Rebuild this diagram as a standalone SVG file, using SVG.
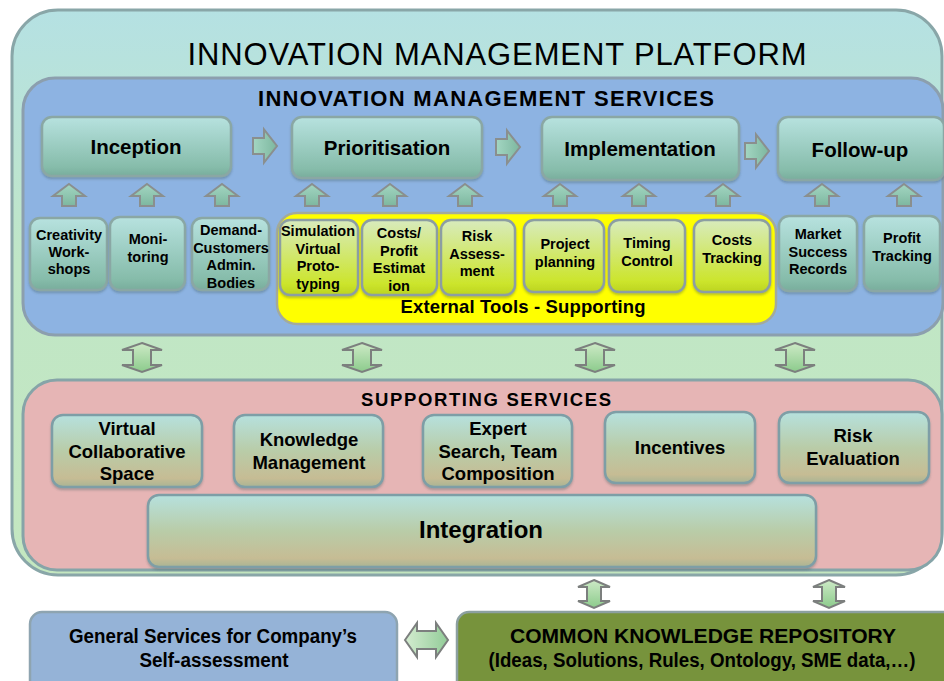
<svg xmlns="http://www.w3.org/2000/svg" width="944" height="681" viewBox="0 0 944 681">
  <defs>
    <linearGradient id="gOuter" x1="0" y1="0" x2="0" y2="1">
      <stop offset="0" stop-color="#b5e1e3"/>
      <stop offset="0.45" stop-color="#c0e6c6"/>
      <stop offset="1" stop-color="#c4e7c0"/>
    </linearGradient>
    <linearGradient id="gStage" x1="0" y1="0" x2="0" y2="1">
      <stop offset="0" stop-color="#b7e2df"/>
      <stop offset="0.85" stop-color="#86bcaa"/>
      <stop offset="1" stop-color="#78ad9c"/>
    </linearGradient>
    <linearGradient id="gTool" x1="0" y1="0" x2="0" y2="1">
      <stop offset="0" stop-color="#d8ebbd"/>
      <stop offset="0.85" stop-color="#cce52c"/>
      <stop offset="1" stop-color="#bcd420"/>
    </linearGradient>
    <linearGradient id="gSupport" x1="0" y1="0" x2="0" y2="1">
      <stop offset="0" stop-color="#b6e1de"/>
      <stop offset="0.5" stop-color="#b9cca8"/>
      <stop offset="0.88" stop-color="#c6bc94"/>
      <stop offset="1" stop-color="#a9b494"/>
    </linearGradient>
    <linearGradient id="gArrow" x1="0" y1="0" x2="0" y2="1">
      <stop offset="0" stop-color="#a3d6c2"/>
      <stop offset="1" stop-color="#7db79f"/>
    </linearGradient>
    <linearGradient id="gArrowR" x1="0" y1="0" x2="1" y2="0">
      <stop offset="0" stop-color="#a3d6c2"/>
      <stop offset="1" stop-color="#7db79f"/>
    </linearGradient>
    <linearGradient id="gDouble" x1="0" y1="0" x2="0" y2="1">
      <stop offset="0" stop-color="#cdeac6"/>
      <stop offset="1" stop-color="#8ccb8c"/>
    </linearGradient>
    <linearGradient id="gDoubleH" x1="0" y1="0" x2="1" y2="0">
      <stop offset="0" stop-color="#d4ecd0"/>
      <stop offset="1" stop-color="#92cc98"/>
    </linearGradient>
    <filter id="shadow" x="-10%" y="-10%" width="120%" height="130%">
      <feDropShadow dx="0" dy="2" stdDeviation="1.2" flood-color="#3c5a5a" flood-opacity="0.35"/>
    </filter>

    <!-- connector shapes, drawn at the origin and placed with <use> -->
    <path id="upArrow" d="M0,0 L16,12 L7,12 L7,22 L-7,22 L-7,12 L-16,12 Z"/>
    <path id="rightArrow" d="M0,-8 L11,-8 L11,-16.5 L24,0 L11,16.5 L11,8 L0,8 Z"/>
    <path id="bigDouble" d="M0,0 L20,7 L9,7 L9,22 L20,22 L0,29 L-20,22 L-9,22 L-9,7 L-20,7 Z"/>
    <path id="smallDouble" d="M0,0 L16,7 L7,7 L7,21 L16,21 L0,28 L-16,21 L-7,21 L-7,7 L-16,7 Z"/>
    <path id="sideDouble" d="M0,0 L12,-17 L12,-9 L31,-9 L31,-17 L43,0 L31,17 L31,9 L12,9 L12,17 Z"/>

    <style>
      text { font-family: "Liberation Sans", Arial, sans-serif; fill: #000; text-anchor: middle; }
      .b { font-weight: bold; }
      .stage { fill: url(#gStage); stroke: #8aa7a4; stroke-width: 2.5; filter: url(#shadow); }
      .tool { fill: url(#gTool); stroke: #8c9ea2; stroke-width: 2.5; filter: url(#shadow); }
      .sup { fill: url(#gSupport); stroke: #7e9ea6; stroke-width: 2.5; filter: url(#shadow); }
      .stT { font-size: 20.5px; font-weight: bold; }
      .smT { font-size: 14.5px; font-weight: bold; }
      .spT { font-size: 18.5px; font-weight: bold; }
      .up { fill: url(#gArrow); stroke: #8a8f8e; stroke-width: 2; }
      .right { fill: url(#gArrowR); stroke: #8a8f8e; stroke-width: 2; }
      .dbl { fill: url(#gDouble); stroke: #7c7f7e; stroke-width: 2; }
      .dblH { fill: url(#gDoubleH); stroke: #7c7f7e; stroke-width: 2; }
    </style>
  </defs>

  <rect width="944" height="681" fill="#ffffff"/>

  <!-- platform frame -->
  <g id="platform">
    <rect x="12" y="10" width="930" height="565" rx="46" fill="url(#gOuter)" stroke="#89a6a8" stroke-width="3"/>
    <text x="497" y="65" font-size="31" textLength="619" lengthAdjust="spacing">INNOVATION MANAGEMENT PLATFORM</text>
  </g>

  <!-- innovation management services panel -->
  <g id="ims-panel">
    <rect x="23" y="78" width="920" height="257" rx="32" fill="#8db3e2" stroke="#8c9fae" stroke-width="3"/>
    <text x="486" y="106" font-size="22" class="b" textLength="456" lengthAdjust="spacing">INNOVATION MANAGEMENT SERVICES</text>
  </g>

  <!-- supporting services panel -->
  <g id="ss-panel">
    <rect x="23" y="380" width="919" height="190" rx="34" fill="#e6b5b5" stroke="#86a4a8" stroke-width="3"/>
    <text x="486" y="406" font-size="18.5" class="b" textLength="250" lengthAdjust="spacing">SUPPORTING SERVICES</text>
  </g>

  <!-- external tools frame -->
  <g id="external-tools">
    <rect x="277" y="213" width="499" height="111" rx="20" fill="#ffff00" stroke="#a3aa9c" stroke-width="2.5"/>
    <text x="523" y="313" font-size="18.5" class="b" textLength="245" lengthAdjust="spacing">External Tools - Supporting</text>
  </g>

  <!-- lifecycle stages -->
  <g id="inception">
    <rect class="stage" x="42" y="117" width="189" height="59" rx="10"/>
    <text class="stT" x="136" y="154">Inception</text>
  </g>
  <g id="prioritisation">
    <rect class="stage" x="292" y="117" width="190" height="61" rx="10"/>
    <text class="stT" x="387" y="155">Prioritisation</text>
  </g>
  <g id="implementation">
    <rect class="stage" x="542" y="117" width="197" height="63" rx="10"/>
    <text class="stT" x="640" y="156">Implementation</text>
  </g>
  <g id="follow-up">
    <rect class="stage" x="778" y="117" width="166" height="63" rx="10"/>
    <text class="stT" x="860" y="157">Follow-up</text>
  </g>

  <!-- inception inputs -->
  <g id="creativity-workshops">
    <rect class="stage" x="30" y="218" width="77" height="72" rx="10"/>
    <text class="smT" x="69" y="240">Creativity</text>
    <text class="smT" x="69" y="257">Work-</text>
    <text class="smT" x="69" y="274">shops</text>
  </g>
  <g id="monitoring">
    <rect class="stage" x="110" y="217" width="75" height="73" rx="10"/>
    <text class="smT" x="148" y="244">Moni-</text>
    <text class="smT" x="148" y="262">toring</text>
  </g>
  <g id="demand-customers">
    <rect class="stage" x="192" y="218" width="77" height="72" rx="10"/>
    <text class="smT" x="231" y="235">Demand-</text>
    <text class="smT" x="231" y="253">Customers</text>
    <text class="smT" x="231" y="270">Admin.</text>
    <text class="smT" x="231" y="288">Bodies</text>
  </g>

  <!-- supporting external tools -->
  <g id="simulation">
    <rect class="tool" x="280" y="220" width="78" height="75" rx="10"/>
    <text class="smT" x="318" y="236">Simulation</text>
    <text class="smT" x="318" y="254">Virtual</text>
    <text class="smT" x="318" y="271">Proto-</text>
    <text class="smT" x="318" y="289">typing</text>
  </g>
  <g id="costs-profit">
    <rect class="tool" x="362" y="220" width="75" height="75" rx="10"/>
    <text class="smT" x="399" y="238">Costs/</text>
    <text class="smT" x="399" y="256">Profit</text>
    <text class="smT" x="399" y="273">Estimat</text>
    <text class="smT" x="399" y="291">ion</text>
  </g>
  <g id="risk-assessment">
    <rect class="tool" x="441" y="220" width="74" height="75" rx="10"/>
    <text class="smT" x="477" y="241">Risk</text>
    <text class="smT" x="477" y="259">Assess-</text>
    <text class="smT" x="477" y="276">ment</text>
  </g>
  <g id="project-planning">
    <rect class="tool" x="524" y="220" width="80" height="72" rx="10"/>
    <text class="smT" x="565" y="249">Project</text>
    <text class="smT" x="565" y="267">planning</text>
  </g>
  <g id="timing-control">
    <rect class="tool" x="609" y="220" width="76" height="72" rx="10"/>
    <text class="smT" x="647" y="248">Timing</text>
    <text class="smT" x="647" y="266">Control</text>
  </g>
  <g id="costs-tracking">
    <rect class="tool" x="694" y="220" width="76" height="72" rx="10"/>
    <text class="smT" x="732" y="245">Costs</text>
    <text class="smT" x="732" y="263">Tracking</text>
  </g>

  <!-- follow-up inputs -->
  <g id="market-success">
    <rect class="stage" x="779" y="216" width="78" height="75" rx="10"/>
    <text class="smT" x="818" y="239">Market</text>
    <text class="smT" x="818" y="257">Success</text>
    <text class="smT" x="818" y="274">Records</text>
  </g>
  <g id="profit-tracking">
    <rect class="stage" x="864" y="216" width="76" height="75" rx="10"/>
    <text class="smT" x="902" y="243">Profit</text>
    <text class="smT" x="902" y="261">Tracking</text>
  </g>

  <!-- supporting services -->
  <g id="virtual-space">
    <rect class="sup" x="52" y="415" width="150" height="72" rx="11"/>
    <text class="spT" x="127" y="435">Virtual</text>
    <text class="spT" x="127" y="458">Collaborative</text>
    <text class="spT" x="127" y="480">Space</text>
  </g>
  <g id="knowledge-management">
    <rect class="sup" x="234" y="415" width="149" height="72" rx="11"/>
    <text class="spT" x="309" y="446">Knowledge</text>
    <text class="spT" x="309" y="469">Management</text>
  </g>
  <g id="expert-search">
    <rect class="sup" x="423" y="415" width="149" height="72" rx="11"/>
    <text class="spT" x="498" y="435">Expert</text>
    <text class="spT" x="498" y="458">Search, Team</text>
    <text class="spT" x="498" y="480">Composition</text>
  </g>
  <g id="incentives">
    <rect class="sup" x="605" y="412" width="150" height="71" rx="11"/>
    <text class="spT" x="680" y="454">Incentives</text>
  </g>
  <g id="risk-evaluation">
    <rect class="sup" x="779" y="412" width="150" height="71" rx="11"/>
    <text class="spT" x="853" y="442">Risk</text>
    <text class="spT" x="853" y="465">Evaluation</text>
  </g>
  <g id="integration">
    <rect class="sup" x="148" y="495" width="668" height="72" rx="11"/>
    <text x="481" y="538" font-size="24" class="b">Integration</text>
  </g>

  <!-- bottom services -->
  <g id="general-services">
    <rect x="30" y="612" width="367" height="90" rx="12" fill="#95b3d7" stroke="#8ea4b0" stroke-width="2.5"/>
    <text x="213" y="643" font-size="19.5" class="b" textLength="288" lengthAdjust="spacingAndGlyphs">General Services for Company’s</text>
    <text x="214" y="667" font-size="19.5" class="b" textLength="149" lengthAdjust="spacingAndGlyphs">Self-assessment</text>
  </g>
  <g id="knowledge-repository">
    <rect x="457" y="612" width="500" height="90" rx="12" fill="#77933c" stroke="#8ca0a0" stroke-width="2.5"/>
    <text x="703" y="643" font-size="19.5" class="b" textLength="386" lengthAdjust="spacingAndGlyphs">COMMON  KNOWLEDGE  REPOSITORY</text>
    <text x="702" y="667" font-size="19.5" class="b" textLength="427" lengthAdjust="spacingAndGlyphs">(Ideas, Solutions, Rules, Ontology, SME data,…)</text>
  </g>

  <!-- connectors -->
  <g id="connectors">
    <!-- stage to stage -->
    <use href="#rightArrow" class="right" x="253" y="146"/>
    <use href="#rightArrow" class="right" x="496" y="147"/>
    <use href="#rightArrow" class="right" x="745" y="151"/>

    <!-- inputs feeding the stages -->
    <use href="#upArrow" class="up" x="69" y="184"/>
    <use href="#upArrow" class="up" x="147" y="184"/>
    <use href="#upArrow" class="up" x="222" y="184"/>
    <use href="#upArrow" class="up" x="312" y="184"/>
    <use href="#upArrow" class="up" x="390" y="184"/>
    <use href="#upArrow" class="up" x="465" y="184"/>
    <use href="#upArrow" class="up" x="560" y="184"/>
    <use href="#upArrow" class="up" x="639" y="184"/>
    <use href="#upArrow" class="up" x="723" y="184"/>
    <use href="#upArrow" class="up" x="822" y="184"/>
    <use href="#upArrow" class="up" x="904" y="184"/>

    <!-- services panel to supporting panel -->
    <use href="#bigDouble" class="dbl" x="142" y="343"/>
    <use href="#bigDouble" class="dbl" x="362" y="343"/>
    <use href="#bigDouble" class="dbl" x="595" y="343"/>
    <use href="#bigDouble" class="dbl" x="795" y="343"/>

    <!-- platform to repository -->
    <use href="#smallDouble" class="dbl" x="594" y="580"/>
    <use href="#smallDouble" class="dbl" x="829" y="580"/>

    <!-- self-assessment to repository -->
    <use href="#sideDouble" class="dblH" x="405" y="640"/>
  </g>
</svg>
